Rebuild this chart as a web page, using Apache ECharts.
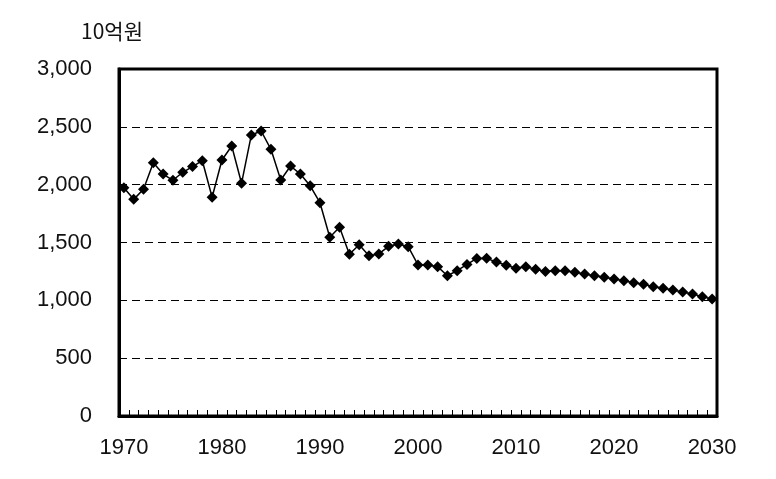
<!DOCTYPE html>
<html><head><meta charset="utf-8">
<script src="https://cdn.jsdelivr.net/npm/echarts@6/dist/echarts.min.js"></script>
<style>html,body{margin:0;padding:0;background:#fff}#c{width:776px;height:479px}</style>
</head><body><div id="c"></div>
<script>
const years = [];
for (let y = 1970; y <= 2030; y++) years.push(String(y));
const values = [
  1974, 1873, 1960, 2190, 2092, 2038, 2107, 2156, 2207, 1891,
  2213, 2334, 2012, 2430, 2464, 2306, 2040, 2161, 2092, 1990,
  1844, 1545, 1631, 1398, 1481, 1386, 1401, 1467, 1487, 1464,
  1306, 1306, 1291, 1213, 1256, 1310, 1362, 1363, 1331, 1303,
  1277, 1291, 1268, 1250, 1256, 1256, 1242, 1228, 1213, 1199,
  1184, 1170, 1153, 1139, 1118, 1104, 1089, 1072, 1055, 1032, 1012
];
const unitLabel = '10억원';
const chart = echarts.init(document.getElementById('c'));
const font = "'Liberation Sans', Arial, sans-serif";
chart.setOption({
  animation: false,
  title: { text: unitLabel, left: 81, top: 21, padding: 0, textStyle: { fontFamily: "'Noto Sans CJK KR', sans-serif", fontSize: 21, fontWeight: 'normal', color: '#111' } },
  grid: { left: 119, right: 59, top: 69, bottom: 63, show: true, borderColor: '#000', borderWidth: 3, backgroundColor: 'transparent' },
  xAxis: {
    type: 'category', data: years, boundaryGap: true,
    axisLine: { lineStyle: { color: '#000', width: 3 } },
    axisTick: { show: true, inside: true, interval: 0, length: 6, lineStyle: { color: '#000', width: 1 } },
    axisLabel: { interval: 9, color: '#111', fontSize: 22, fontFamily: font, margin: 21 },
    splitLine: { show: false }
  },
  yAxis: {
    type: 'value', min: 0, max: 3000, interval: 500,
    axisLine: { show: true, lineStyle: { color: '#000', width: 3 } },
    axisTick: { show: false },
    axisLabel: { color: '#111', fontSize: 22, fontFamily: font, margin: 27,
      formatter: v => v.toLocaleString('en-US') },
    splitLine: { show: true, lineStyle: { color: '#000', type: [8, 5], width: 1 } }
  },
  series: [{
    type: 'line', data: values, symbol: 'diamond', symbolSize: 11, showAllSymbol: true,
    lineStyle: { color: '#000', width: 1.5 }, itemStyle: { color: '#000' }
  }]
});
</script></body></html>
